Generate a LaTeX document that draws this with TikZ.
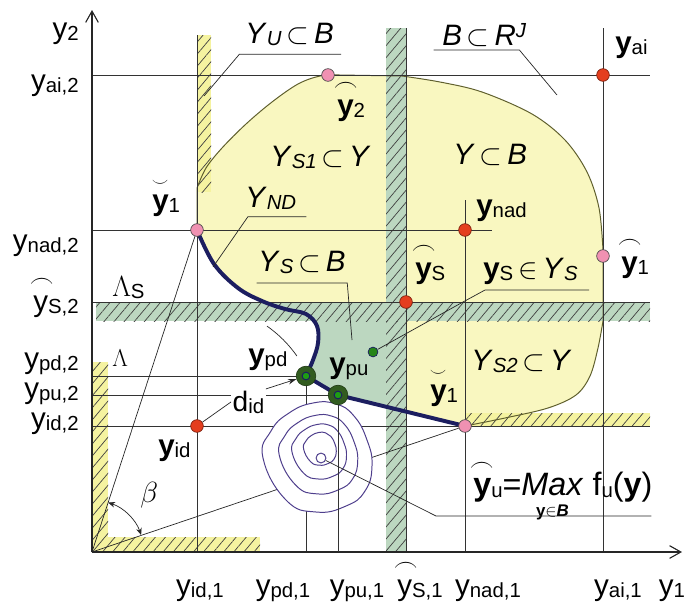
\documentclass[tikz,border=0pt]{standalone}
\usepackage{amsmath}
\usepackage{fontspec}
\setmainfont{Liberation Sans}
\usetikzlibrary{arrows.meta, patterns.meta}
\definecolor{regionyellow}{RGB}{249,247,192}
\definecolor{stripyellow}{RGB}{245,243,160}
\definecolor{regiongreen}{RGB}{188,215,192}
\definecolor{pointred}{RGB}{228,62,30}
\definecolor{pointpink}{RGB}{240,145,178}
\definecolor{frontnavy}{RGB}{28,30,96}
\definecolor{contourblue}{RGB}{78,62,140}
\definecolor{ringgreen}{RGB}{50,92,32}
\definecolor{edgeolive}{RGB}{95,95,45}

% subscript / superscript and accented y
\newcommand{\sbs}[1]{\raisebox{-1.5pt}{\fontsize{14.5}{15}\selectfont #1}}
\newcommand{\sps}[1]{\raisebox{5pt}{\fontsize{14.5}{15}\selectfont #1}}
\newcommand{\arcy}[1]{\makebox[0pt][l]{\hspace{-2.4pt}\raisebox{16.5pt}{\fontsize{17}{17}\selectfont$\frown$}}#1}
\newcommand{\brvy}[1]{\makebox[0pt][l]{\hspace{-0.3pt}\raisebox{17pt}{\fontsize{12}{12}\selectfont$\smile$}}#1}

% outline of the set Y (pixel coordinates)
\newcommand{\regionY}{(197,230) -- (197,188)
  -- plot[smooth, tension=0.55] coordinates {(197,188) (206,168) (222,148) (246,124) (272,102) (298,84) (320,76) (340,75)}
  -- (402,76)
  -- plot[smooth, tension=0.55] coordinates {(402,76) (440,82) (482,92) (532,114) (565,140) (587,172) (599,208) (603,250)}
  -- (603,321)
  -- plot[smooth, tension=0.55] coordinates {(603,321) (598,348) (590,376) (576,395) (548,408) (505,418) (465,426)}
  -- (338,395) -- (306,376)
  -- plot[smooth, tension=0.6] coordinates {(306,376) (313,360) (318,343) (317,326) (306,314) (285,309) (262,301) (238,288) (214,264) (197,230)}
  -- cycle}

\begin{document}
\begin{tikzpicture}[
    x=0.025cm, y=-0.025cm,
    gridline/.style={line width=0.6pt, draw=black!80},
    thinline/.style={line width=0.5pt, draw=black!85},
    axisline/.style={line width=0.8pt, draw=black!85, -{Straight Barb[length=8pt, width=9pt]}},
    edgeline/.style={line width=0.7pt, draw=edgeolive},
    frontline/.style={line width=2.8pt, draw=frontnavy, line cap=round, line join=round},
    contour/.style={line width=0.7pt, draw=contourblue, fill=white},
    greenstrip/.style={fill=regiongreen, postaction={pattern color=black!75,
                       pattern={Lines[angle=50, distance=5.5pt, line width=0.5pt]}}},
    yellowstrip/.style={fill=stripyellow, postaction={pattern color=black!75,
                        pattern={Lines[angle=50, distance=5.5pt, line width=0.5pt]}}},
    reddot/.style={circle, fill=pointred, draw=pointred!55!black, line width=0.5pt,
                   minimum size=9pt, inner sep=0pt},
    pinkdot/.style={reddot, fill=pointpink, draw=black!70},
    greenring/.style={circle, fill=ringgreen, draw=ringgreen!60!black, minimum size=14pt, inner sep=0pt},
    ringcore/.style={circle, fill=ringgreen!60!green, draw=frontnavy, line width=0.7pt,
                     minimum size=5.5pt, inner sep=0pt},
    smalldot/.style={circle, fill=ringgreen!75!green, draw=frontnavy, line width=0.5pt,
                     minimum size=7pt, inner sep=0pt},
    lbl/.style={font=\fontsize{21}{25}\selectfont, inner sep=0pt, anchor=base west},
    ticklbl/.style={lbl, anchor=base east},
    botlbl/.style={lbl, anchor=base}
]
\useasboundingbox (0,0) rectangle (698,614);
% points of the plane
\coordinate (O) at (92,552);
\coordinate (yai) at (603,75);
\coordinate (yhat2) at (328,75);
\coordinate (ybr1) at (197,230);
\coordinate (ynad) at (465,230);
\coordinate (yhat1) at (603,256);
\coordinate (yhatS) at (406,302);
\coordinate (yS) at (373,352);
\coordinate (ypd) at (306,376);
\coordinate (ypu) at (338,395);
\coordinate (ybr2) at (465,426);
\coordinate (yid) at (197,426);
\coordinate (ctr) at (321,458);
% set Y and its part Y_S
\fill[regionyellow] \regionY;
\begin{scope}
  \clip \regionY;
  \fill[regiongreen] (90,302) rectangle (406,560);
\end{scope}
\path[greenstrip] (386,28) rectangle (406,552);
\path[greenstrip] (96,302) rectangle (650,321);
\path[yellowstrip] (197,35) rectangle (211,192);
\path[yellowstrip] (465,413) rectangle (650,426);
\path[yellowstrip] (92,362) rectangle (108,552);
\path[yellowstrip] (92,537) rectangle (260,552);
\draw[edgeline] \regionY;
% grid
\draw[gridline] (O |- yai) -- (650,75);
\draw[gridline] (O |- ybr1) -- (492,230);
\draw[gridline] (O |- yhatS) -- (650,302);
\draw[gridline] (O |- ypd) -- (ypd);
\draw[gridline] (O |- ypu) -- (ypu);
\draw[gridline] (O |- yid) -- (650,426);
\draw[gridline] (197,35) -- (yid |- O);
\draw[gridline] (406,28) -- (yhatS |- O);
\draw[gridline] (465,200) -- (ynad |- O);
\draw[gridline] (603,28) -- (yai |- O);
\draw[gridline] (ypd) -- (ypd |- O);
\draw[axisline] (O) -- (92,10);
\draw[axisline] (O) -- (682,552);
% cone Lambda
\draw[thinline] (O) -- (ybr1);
\draw[thinline] (O) -- (ybr2);
\draw[thinline, {Stealth[length=5pt, width=4pt]}-{Stealth[length=5pt, width=4pt]}]
    (O) ++(-72:52) arc[start angle=-72, end angle=-19, radius=52];
% level lines of f_u
\foreach \s/\dy in {1/0, 0.72/-3, 0.5/-6, 0.3/-9}
  \draw[contour, shift={(321,{458+\dy})}, scale=\s] plot[smooth cycle, tension=0.8]
    coordinates {(-58,0) (-50,-27) (-32,-45) (-8,-55) (15,-54) (33,-42) (46,-18) (51,8) (44,33) (25,48) (-5,54) (-35,42)};
\node[circle, draw=contourblue, line width=0.7pt, minimum size=7pt, inner sep=0pt] (ctrmark) at (ctr) {};
\draw[gridline] (ypu) -- (ypu |- O);
% nondominated front Y_ND
\draw[frontline] plot[smooth, tension=0.6] coordinates {(197,230) (214,264) (238,288) (262,301) (285,309) (306,314) (317,326) (318,343) (313,360) (306,376)}
    -- (ypu) -- (ybr2);
% distance d_id
\draw[thinline] (yid) ++(-55:122) arc[start angle=-55, end angle=-35, radius=122];
% points
\node[pinkdot] (yhat2dot) at (yhat2) {};
\node[reddot] (yaidot) at (yai) {};
\node[pinkdot] (ybr1dot) at (ybr1) {};
\node[reddot] (ynaddot) at (ynad) {};
\node[pinkdot] (yhat1dot) at (yhat1) {};
\node[reddot] (yhatSdot) at (yhatS) {};
\node[smalldot] (ySdot) at (yS) {};
\node[greenring] (ypdring) at (ypd) {};
\node[ringcore] (ypdcore) at (ypd) {};
\node[greenring] (ypuring) at (ypu) {};
\node[ringcore] (ypucore) at (ypu) {};
\node[pinkdot] (ybr2dot) at (ybr2) {};
\node[reddot] (yiddot) at (yid) {};
% axis labels
\node[ticklbl] (ax2) at (79,38) {y\sbs{2}};
\node[ticklbl] (tai2) at (79,90) {y\sbs{ai,2}};
\node[ticklbl] (tnad2) at (79,250) {y\sbs{nad,2}};
\node[ticklbl] (ts2) at (79,311) {\arcy{y}\sbs{S,2}};
\node[ticklbl] (tpd2) at (79,368) {y\sbs{pd,2}};
\node[ticklbl] (tpu2) at (79,398) {y\sbs{pu,2}};
\node[ticklbl] (tid2) at (79,428) {y\sbs{id,2}};
\node[botlbl] (tid1) at (200,595) {y\sbs{id,1}};
\node[botlbl] (tpd1) at (283,595) {y\sbs{pd,1}};
\node[botlbl] (tpu1) at (357,595) {y\sbs{pu,1}};
\node[botlbl] (ts1) at (420,595) {\arcy{y}\sbs{S,1}};
\node[botlbl] (tnad1) at (488,595) {y\sbs{nad,1}};
\node[botlbl] (tai1) at (618,595) {y\sbs{ai,1}};
\node[botlbl] (ax1) at (672,595) {y\sbs{1}};
% point labels
\node[lbl] (lyai) at (615,52) {\textbf{y}\sbs{ai}};
\node[lbl] (lyhat2) at (337,115) {\arcy{\textbf{y}}\sbs{2}};
\node[lbl] (lybr1) at (152,210) {\brvy{\textbf{y}}\sbs{1}};
\node[lbl] (lynad) at (476,215) {\textbf{y}\sbs{nad}};
\node[lbl] (lyhatS) at (415,278) {\arcy{\textbf{y}}\sbs{S}};
\node[lbl] (lyS) at (483,278) {\textbf{y}\sbs{S}\,$\in$\,\textit{Y}\sbs{\textit{S}}};
\node[lbl] (lyhat1) at (621,272) {\arcy{\textbf{y}}\sbs{1}};
\node[lbl] (lybr2) at (430,400) {\brvy{\textbf{y}}\sbs{1}};
\node[lbl] (lypd) at (248,364) {\textbf{y}\sbs{pd}};
\node[lbl] (lypu) at (329,373) {\textbf{y}\sbs{pu}};
\node[lbl] (lyid) at (158,455) {\textbf{y}\sbs{id}};
\node[lbl, font=\fontsize{23}{27}\selectfont] (lyu) at (473,495) {\arcy{\textbf{y}}\sbs{u}=$\underset{\text{\fontsize{12}{12}\selectfont\textbf{y}$\in$\textbf{\textit{B}}}}{\text{\textit{Max}}}$ f\sbs{u}(\textbf{y})};
% set labels
\node[lbl] (lYU) at (245,43) {\textit{Y}\sbs{\textit{U}}\,$\subset$\,\textit{B}};
\node[lbl] (lB) at (442,45) {\textit{B}\,$\subset$\,\textit{R}\sps{\textit{J}}};
\node[lbl] (lYS1) at (270,166) {\textit{Y}\sbs{\textit{S1}}\,$\subset$\,\textit{Y}};
\node[lbl] (lY) at (453,164) {\textit{Y}\,$\subset$\,\textit{B}};
\node[lbl] (lYND) at (245,207) {\textit{Y}\sbs{\textit{ND}}};
\node[lbl] (lYS) at (258,271) {\textit{Y}\sbs{\textit{S}}\,$\subset$\,\textit{B}};
\node[lbl] (lYS2) at (471,370) {\textit{Y}\sbs{\textit{S2}}\,$\subset$\,\textit{Y}};
\node[lbl, font=\fontsize{16}{18}\selectfont] (lLam) at (112,366) {$\Lambda$};
\node[lbl] (lLamS) at (112,296) {$\Lambda$\sbs{S}};
\node[lbl] (lbeta) at (140,502) {$\beta$};
\node[lbl, font=\fontsize{20}{22}\selectfont, fill=white, inner sep=1pt] (ldid) at (231,411) {d\sbs{id}};
% leaders
\coordinate (yuTip) at (204,96);
\coordinate (bTip) at (557,95);
\coordinate (ndTip) at (213,267);
\coordinate (ysTip) at (352,340);
\coordinate (ysElbow) at (463,302);
\coordinate (yuElbow) at (436,516);
\draw[thinline] (yuTip) -- ([shift={(-4pt,-8pt)}]lYU.base west) -- ([shift={(5pt,-8pt)}]lYU.base east);
\draw[thinline] (bTip) -- ([shift={(-5pt,-3.6pt)}]lB.base east) -- ([shift={(-6pt,-3.6pt)}]lB.base west);
\draw[thinline] (ndTip) -- ([shift={(2pt,-7pt)}]lYND.base west) -- ([shift={(7pt,-7pt)}]lYND.base east);
\draw[thinline] (ysTip) -- ([shift={(1pt,-8.5pt)}]lYS.base east) -- ([shift={(-1pt,-8.5pt)}]lYS.base west);
\draw[thinline] (ySdot) -- (ysElbow) -- ([shift={(1.5pt,-8.5pt)}]lyS.base west) -- ([shift={(8pt,-8.5pt)}]lyS.base east);
\draw[thinline] (ctrmark) -- (yuElbow) -- ([xshift=-1pt]yuElbow -| lyu.east);
\draw[thinline] (yiddot) -- (ldid.west);
\draw[thinline, -{Stealth[length=6pt, width=4pt]}] (ldid.north east) -- (ypdring);
\end{tikzpicture}
\end{document}
